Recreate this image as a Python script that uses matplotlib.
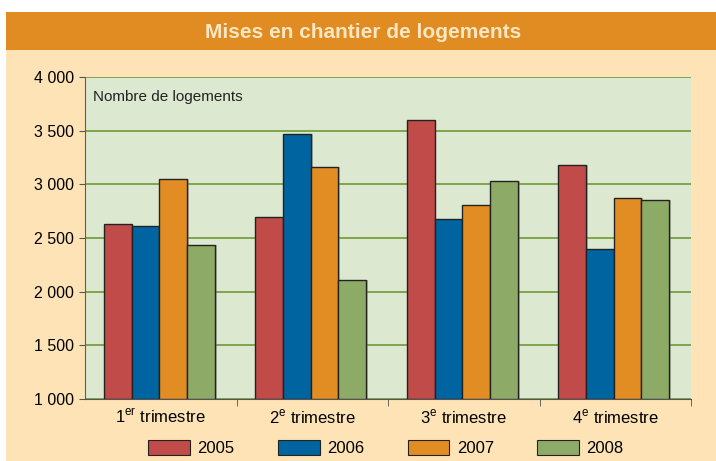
import matplotlib
matplotlib.use("Agg")
import matplotlib.pyplot as plt
import numpy as np
from matplotlib.patches import Rectangle, Patch
from matplotlib.ticker import FixedLocator

plt.rcParams['font.family'] = ['Liberation Sans Narrow', 'Liberation Sans', 'DejaVu Sans']

categories = ["1$^{\\mathregular{er}}$ trimestre", "2$^{\\mathregular{e}}$ trimestre",
              "3$^{\\mathregular{e}}$ trimestre", "4$^{\\mathregular{e}}$ trimestre"]
years = ["2005", "2006", "2007", "2008"]
v2005 = [2630, 2695, 3600, 3180]
v2006 = [2610, 3470, 2680, 2400]
v2007 = [3050, 3160, 2810, 2870]
v2008 = [2435, 2110, 3030, 2855]
yticks = [1000, 1500, 2000, 2500, 3000, 3500, 4000]
ytick_labels = ["1 000", "1 500", "2 000", "2 500", "3 000", "3 500", "4 000"]

colors = ["#C04B48", "#0064A0", "#E28D24", "#8DAA66"]
series = [v2005, v2006, v2007, v2008]

W, H = 716, 461
fig = plt.figure(figsize=(W / 100, H / 100), dpi=100)
fig.patch.set_facecolor("white")
# peach background
fig.add_artist(Rectangle((6 / W, 0), 1 - 6 / W, 1 - 12 / H, transform=fig.transFigure,
                         facecolor="#FEE3B6", edgecolor="none", zorder=-10))
# title band
fig.add_artist(Rectangle((6 / W, 1 - 50 / H), 1 - 6 / W, 38 / H, transform=fig.transFigure,
                         facecolor="#E08C22", edgecolor="none", zorder=-9))
fig.text(0.5 + 5 / W, 1 - 32 / H, "Mises en chantier de logements", ha="center", va="center",
         fontsize=15, fontweight="bold", color="#FDE6C2", family=['Liberation Sans', 'DejaVu Sans'])

ax = fig.add_axes([85 / W, 1 - 399 / H, (691 - 85) / W, (399 - 77) / H])
ax.set_facecolor("#DDE8D0")
x = np.arange(len(categories))
bw = 0.183
for i, (vals, c) in enumerate(zip(series, colors)):
    offs = (i - 1.5) * bw - 0.01
    # shadow
    ax.bar(x + offs + 0.012, np.array(vals) - 1000, bw, bottom=1000, color="#7a7a7a",
           alpha=0.45, zorder=2, linewidth=0)
    ax.bar(x + offs, np.array(vals) - 1000, bw, bottom=1000, color=c, edgecolor="#222222",
           linewidth=1.0, zorder=3, label=years[i])

ax.set_ylim(1000, 4000)
ax.set_xlim(-0.5, 3.5)
ax.set_yticks(yticks)
ax.set_yticklabels(ytick_labels, fontsize=11.5)
ax.yaxis.grid(True, color="#76A043", linewidth=1.3, zorder=1)
ax.set_axisbelow(True)
ax.set_xticks(x)
ax.set_xticklabels(categories, fontsize=12)
ax.tick_params(axis="x", length=0, pad=6)
ax.xaxis.set_minor_locator(FixedLocator([0.5, 1.5, 2.5, 3.5]))
ax.tick_params(axis="x", which="minor", length=5, color="#555555", direction="out")
ax.tick_params(axis="y", length=4, color="#555555", direction="out", pad=4)
for s in ["top", "right"]:
    ax.spines[s].set_visible(False)
ax.spines["left"].set_color("#6b5a45")
ax.spines["bottom"].set_color("#555555")
ax.text(8 / (691 - 85), 1 - 20 / 322, "Nombre de logements", transform=ax.transAxes,
        fontsize=11, va="center", ha="left", color="#222222")

handles = [Patch(facecolor=c, edgecolor="#222222", linewidth=0.8) for c in colors]
fig.legend(handles, years, loc="center", bbox_to_anchor=(386 / W, 1 - 448 / H), ncol=4,
           frameon=False, fontsize=12, handlelength=2.5, handleheight=1.0,
           handletextpad=0.45, columnspacing=2.6)

fig.savefig("out.png", dpi=100, facecolor=fig.get_facecolor())
